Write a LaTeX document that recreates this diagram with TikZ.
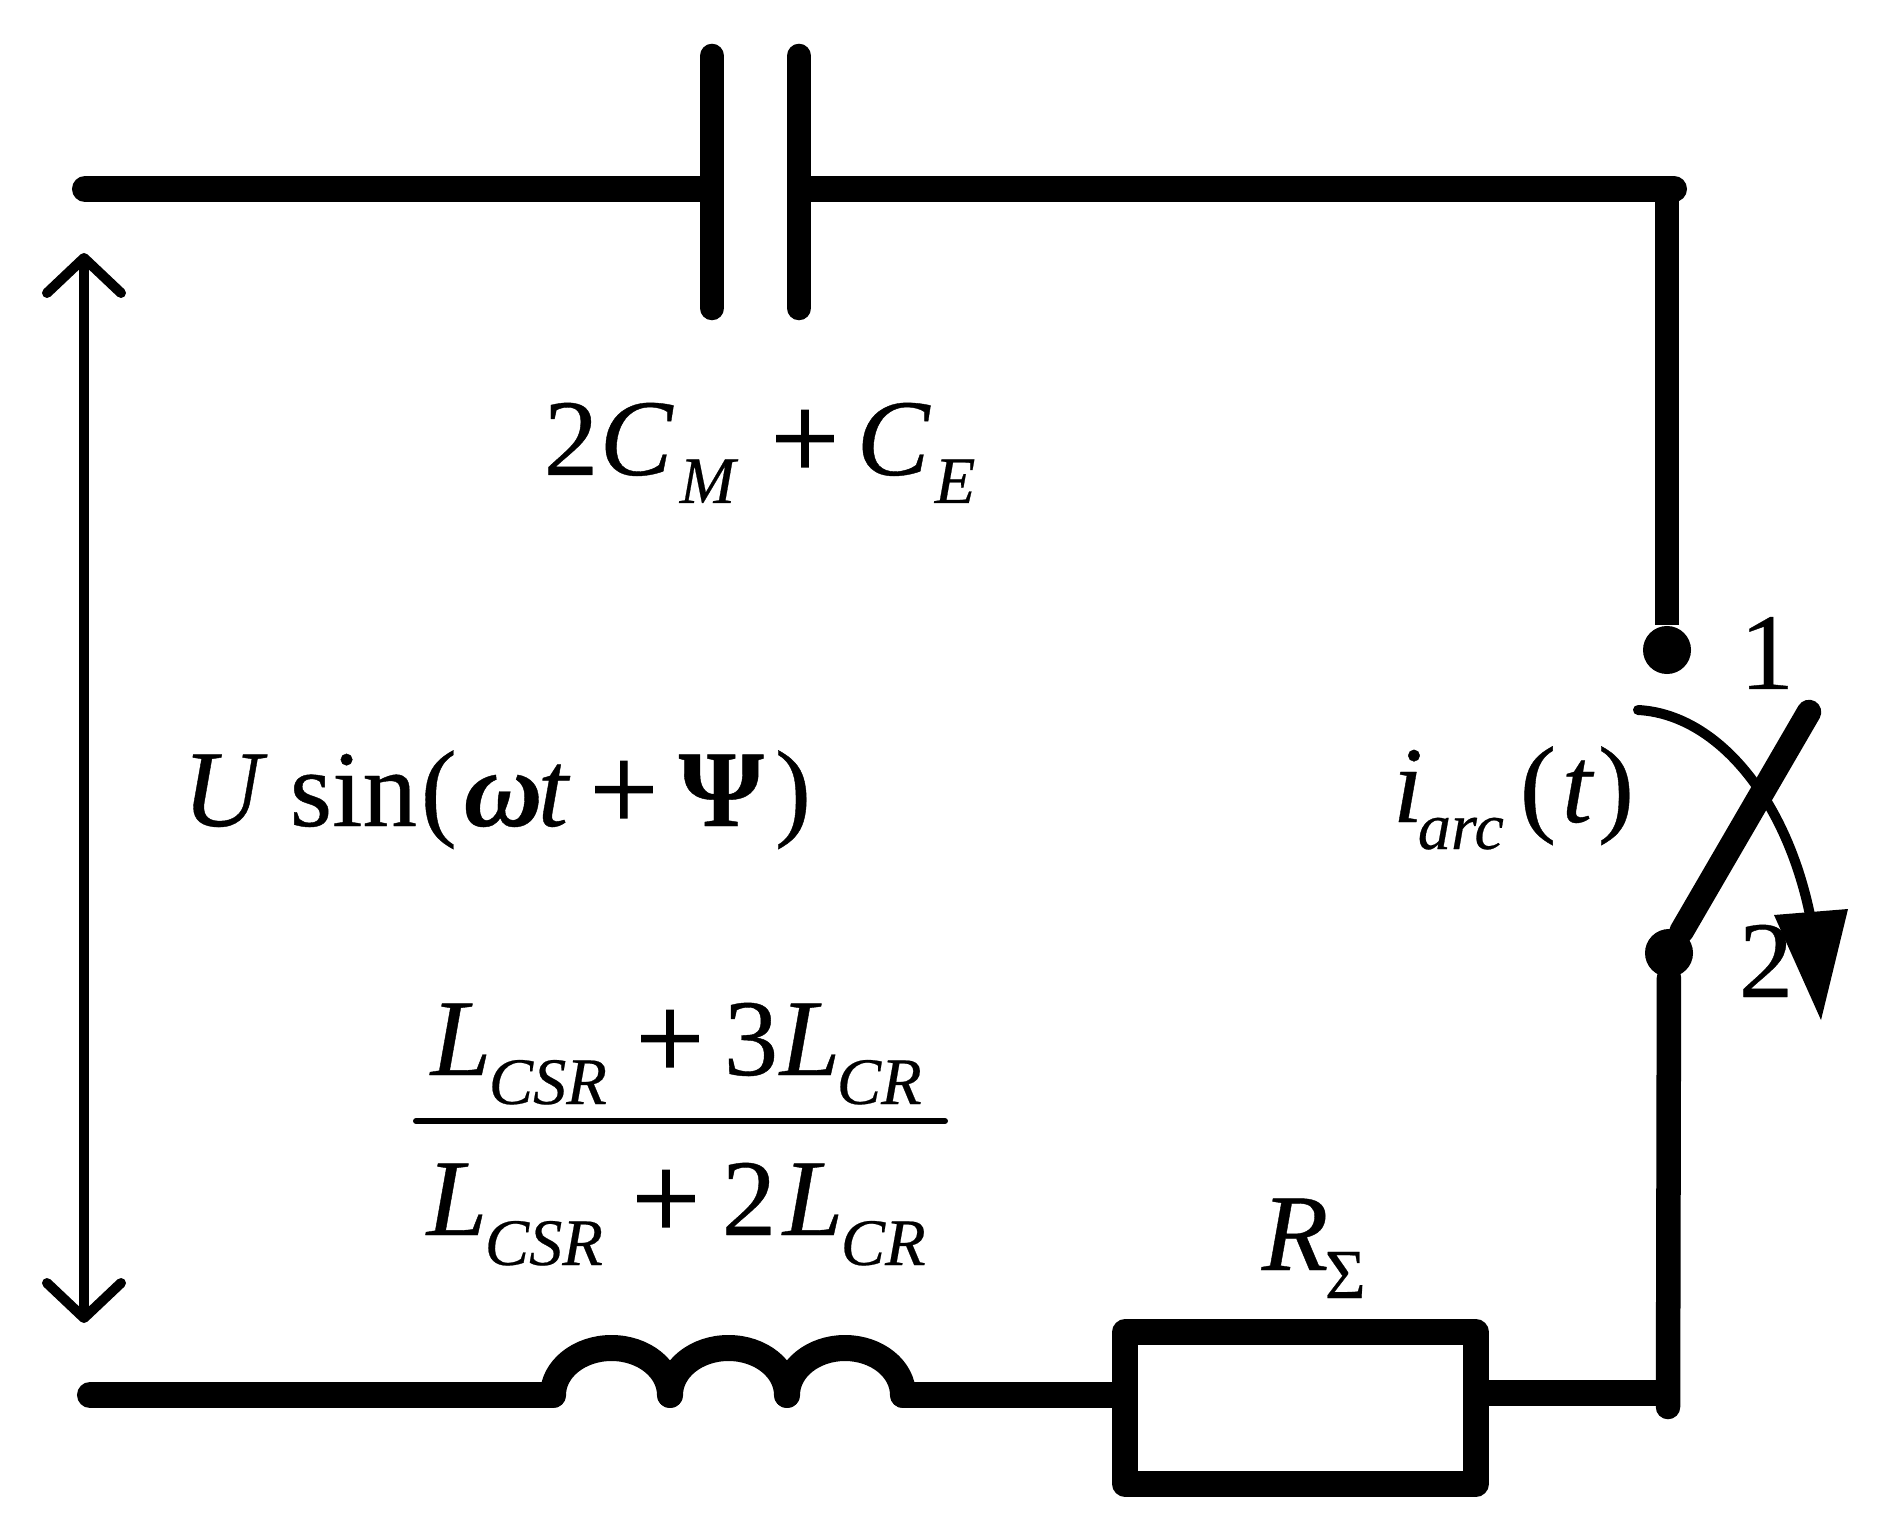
\documentclass[tikz,border=0pt]{standalone}
\usepackage{fontspec}
\setmainfont[FakeBold=0.35]{Liberation Serif}
\newfontfamily\plusfam[FakeBold=1.2]{Liberation Serif}
\newdimen\pxu \pxu=0.01cm
\newcommand\frag[3][0]{\rlap{\kern#2\pxu\raisebox{#1\pxu}{#3}}}
\newcommand\bigf{\fontsize{31}{36}\selectfont}
\newcommand\subf{\fontsize{18.9}{22}\selectfont\itshape}
\newcommand\plusf{\plusfam\fontsize{34.5}{40}\selectfont}
\tikzset{
  wire/.style={line width=0.26cm,line cap=round,line join=round},
  plate/.style={line width=0.245cm,line cap=round},
  thinwire/.style={line width=0.10cm,line cap=round,line join=round},
  arm/.style={line width=0.245cm,line cap=round},
  formula/.style={inner sep=0pt,outer sep=0pt,anchor=base west,font=\bigf},
  digit/.style={inner sep=0pt,outer sep=0pt,anchor=base,font=\bigf},
  contact/.style={circle,fill=black,inner sep=0pt,minimum size=0.48cm}
}
\begin{document}
\begin{tikzpicture}[x=0.01cm,y=-0.01cm]
\path[use as bounding box] (0,0) rectangle (1882,1528);
% named points
\coordinate (tl) at (85,189);
\coordinate (c1) at (707,189);
\coordinate (c2) at (804,189);
\coordinate (tr) at (1674,189);
\coordinate (tv) at (1667,189);
\coordinate (c1t) at (712,56);
\coordinate (c1b) at (712,308);
\coordinate (c2t) at (799,56);
\coordinate (c2b) at (799,308);
\node[contact] (s1) at (1667,650) {};
\node[contact] (s2) at (1669,953) {};
\coordinate (armend) at (1809,712);
\coordinate (br) at (1668,1407);
\coordinate (bj) at (1664,1393);
\coordinate (bl) at (90,1395);
\coordinate (l1) at (553,1395);
\coordinate (l2) at (670,1395);
\coordinate (l3) at (787,1395);
\coordinate (l4) at (903,1395);
\coordinate (rl) at (1125,1395);
\coordinate (rr) at (1475,1393);
\coordinate (ut) at (84,258);
\coordinate (ub) at (84,1318);
\coordinate (fl) at (416,1121);
\coordinate (fr) at (945,1121);
% top branch and capacitor
\draw[wire] (tl) -- (c1);
\draw[wire] (c2) -- (tr);
\draw[plate] (c1t) -- (c1b);
\draw[plate] (c2t) -- (c2b);
\draw[plate,line cap=butt] (tv) -- (s1);
% switch
\draw[arm] (s2) -- (armend);
\draw[plate] (s2) -- (br);
% bottom branch
\draw[wire] (bl) -- (l1);
\draw[wire] (l1) arc[start angle=180,end angle=0,x radius=58.5,y radius=-47];
\draw[wire] (l2) arc[start angle=180,end angle=0,x radius=58.5,y radius=-47];
\draw[wire] (l3) arc[start angle=180,end angle=0,x radius=58,y radius=-47];
\draw[wire] (l4) -- (rl);
\draw[wire] (rr) -- (bj);
\node[draw,line width=0.255cm,line join=round,fill=white,inner sep=0pt,minimum width=3.505cm,minimum height=1.52cm] (res) at (1300.5,1408) {};
% voltage arrow
\draw[thinwire,line cap=butt] (ut) -- (ub);
\draw[thinwire] (47,293) -- (ut) -- (121,293);
\draw[thinwire] (47,1283) -- (ub) -- (121,1283);
% fraction bar
\draw[line width=0.06cm,line cap=round] (fl) -- (fr);
% labels
\node[formula] (cap) at (542,475) {\frag{0}{2}\frag{56}{\itshape C}\frag[-28]{136}{\subf M}\frag[-4]{227}{\plusf +}\frag{313}{\itshape C}\frag[-28]{391}{\subf E}};
\node[formula] (src) at (181,826) {\frag{0}{\itshape U}\frag{107}{sin}\frag{238}{(}\frag{281}{\itshape\bfseries ω}\frag{355}{\itshape t}\frag[-4]{407}{\plusf +}\frag{496}{\bfseries Ψ}\frag{592}{)}};
\node[formula] (num) at (429,1075) {\frag{0}{\itshape L}\frag[-29]{58}{\subf CSR}\frag[-4]{205}{\plusf +}\frag{293}{3}\frag{349}{\itshape L}\frag[-29]{406}{\subf CR}};
\node[formula] (den) at (425,1235) {\frag{0}{\itshape L}\frag[-30]{58}{\subf CSR}\frag[-4]{205}{\plusf +}\frag{295}{2}\frag{356}{\itshape L}\frag[-30]{414}{\subf CR}};
\node[formula] (rlab) at (1260,1270) {\frag{0}{\itshape R}\frag[-28]{63}{\fontsize{20}{24}\selectfont Σ}};
\node[formula] (iarc) at (1391,822) {\frag{0}{\itshape i}\frag[-27]{25}{\subf arc}\frag{127}{(}\frag{169}{\itshape t}\frag{205}{)}};
\node[digit] (n1) at (1767,689) {1};
\node[digit] (n2) at (1766,997) {2};
% arc arrow
\coordinate (as) at (1638,710);
\coordinate (ae) at (1810,915);
\coordinate (h1) at (1774,915);
\coordinate (h2) at (1848,909);
\coordinate (h3) at (1821,1020);
\draw[line width=0.10cm,line cap=round] (as) .. controls (1715,714) and (1785,795) .. (ae);
\fill (h1) -- (h2) -- (h3) -- cycle;
\end{tikzpicture}
\end{document}
